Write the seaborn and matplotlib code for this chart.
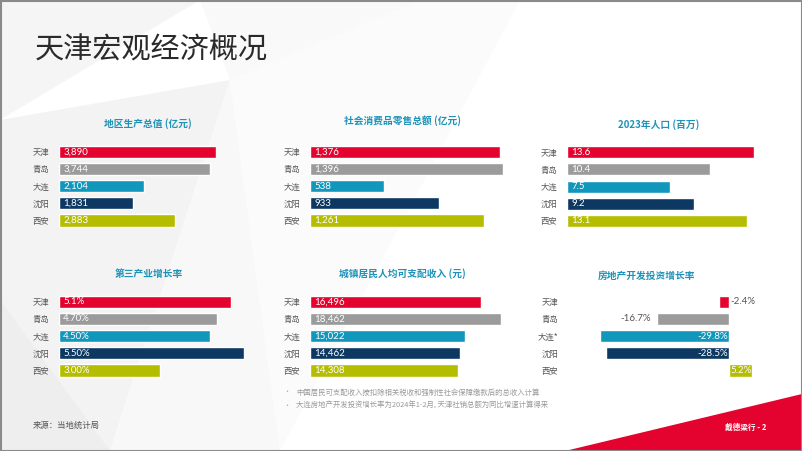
import matplotlib
matplotlib.use("Agg")
import matplotlib.pyplot as plt
import seaborn as sns
from matplotlib.patches import Polygon, Rectangle

sns.set_theme(style="white")
plt.rcParams['font.family'] = ['Noto Sans CJK SC', 'DejaVu Sans']

# ---------------- data ----------------
cities = ["天津", "青岛", "大连", "沈阳", "西安"]
cities_re = ["天津", "青岛", "大连*", "沈阳", "西安"]

gdp = [3890, 3744, 2104, 1831, 2883]
gdp_labels = ["3,890", "3,744", "2,104", "1,831", "2,883"]

retail = [1376, 1396, 538, 933, 1261]
retail_labels = ["1,376", "1,396", "538", "933", "1,261"]

population = [13.6, 10.4, 7.5, 9.2, 13.1]
population_labels = ["13.6", "10.4", "7.5", "9.2", "13.1"]

tertiary = [5.1, 4.7, 4.5, 5.5, 3.0]
tertiary_labels = ["5.1%", "4.70%", "4.50%", "5.50%", "3.00%"]

income = [16496, 18462, 15022, 14462, 14308]
income_labels = ["16,496", "18,462", "15,022", "14,462", "14,308"]

realestate = [-2.4, -16.7, -29.8, -28.5, 5.2]
realestate_labels = ["-2.4%", "-16.7%", "-29.8%", "-28.5%", "5.2%"]

titles = ["地区生产总值 (亿元)", "社会消费品零售总额 (亿元)", "2023年人口 (百万)",
          "第三产业增长率", "城镇居民人均可支配收入 (元)", "房地产开发投资增长率"]

main_title = "天津宏观经济概况"
footnotes = ["中国居民可支配收入按扣除相关税收和强制性社会保障缴款后的总收入计算",
             "大连房地产开发投资增长率为2024年1-2月, 天津社销总额为同比增速计算得来"]
source = "来源：当地统计局"
brand = "戴德梁行 - 2"

colors = ["#E4032E", "#9B9B9B", "#1297BC", "#0C3862", "#B4BD00"]
title_color = "#1E92B8"

# ---------------- figure ----------------
W, H = 802, 451
fig = plt.figure(figsize=(W / 100, H / 100), dpi=100)
fig.patch.set_facecolor("white")

# background facets
bg = fig.add_axes([0, 0, 1, 1])
bg.set_xlim(0, W)
bg.set_ylim(H, 0)
bg.axis("off")
facets = [
    ([(0, 0), (200, 0), (0, 120)], "#f5f5f5"),
    ([(0, 120), (230, 80), (110, 451), (0, 451)], "#f3f3f3"),
    ([(110, 451), (230, 80), (280, 451)], "#f8f8f8"),
    ([(230, 80), (420, 0), (520, 0), (280, 451)], "#fbfbfb"),
    ([(0, 300), (110, 451), (0, 451)], "#eeeeee"),
    ([(200, 0), (420, 0), (230, 80)], "#f9f9f9"),
]
for pts, c in facets:
    bg.add_patch(Polygon(pts, closed=True, facecolor=c, edgecolor="none", zorder=0))
bg.add_patch(Polygon([(565, 451), (802, 394), (802, 451)], closed=True,
                     facecolor="#E4032E", edgecolor="none", zorder=1))
bg.add_patch(Rectangle((0.5, 0.5), W - 1, H - 1, fill=False, edgecolor="#8a8a8a",
                       linewidth=1.5, zorder=5))

bg.text(35, 50, main_title, fontsize=21, color="#2a2a2a", va="center", ha="left")
for i, note in enumerate(footnotes):
    y = 392.5 + i * 13.5
    bg.text(287, y, "•", fontsize=5, color="#aaaaaa", va="center", ha="center")
    bg.text(296, y, note, fontsize=5.3, color="#9a9a9a", va="center", ha="left")
bg.text(33, 425, source, fontsize=6, color="#555555", va="center", ha="left")
bg.text(766, 427, brand, fontsize=5.5, color="white", fontweight="bold",
        va="center", ha="right")


def px_axes(left, top, right, bottom):
    return fig.add_axes([left / W, 1 - bottom / H, (right - left) / W, (bottom - top) / H])


def panel(left, right, top, values, labels, xlim, title, title_xy, ylabels,
          pad=7, mode="inside"):
    ax = px_axes(left, top, right, top + 86)
    sns.barplot(x=values, y=ylabels, hue=ylabels, palette=colors, legend=False,
                orient="h", width=0.7, ax=ax, saturation=1)
    ax.set_xlim(*xlim)
    ax.set_ylim(4.5, -0.5)
    for s in ax.spines.values():
        s.set_visible(False)
    ax.set_facecolor("none")
    ax.set_xticks([])
    ax.set_xlabel("")
    ax.set_ylabel("")
    ax.tick_params(axis="y", length=0, pad=pad, labelsize=6, labelcolor="#555555")
    ax.grid(False)
    bars = sorted(ax.patches, key=lambda p: p.get_y())
    for i, (p, lab) in enumerate(zip(bars, labels)):
        yc = p.get_y() + p.get_height() / 2
        xa = p.get_x()
        xb = p.get_x() + p.get_width()
        x0, x1 = min(xa, xb), max(xa, xb)
        fk = dict(fontsize=7, va="center", family=["Lato", "DejaVu Sans"],
                  annotation_clip=False)
        if mode == "inside":
            ax.annotate(lab, (x0, yc), xytext=(3, 0), textcoords="offset points",
                        ha="left", color="white", **fk)
        else:
            v = values[i]
            if v >= 0:
                ax.annotate(lab, (x0, yc), xytext=(0.5, 0), textcoords="offset points",
                            ha="left", color="white", **fk)
            elif abs(v) > 20:
                ax.annotate(lab, (x1, yc), xytext=(-1, 0), textcoords="offset points",
                            ha="right", color="white", **fk)
            elif abs(v) > 5:
                ax.annotate(lab, (x0, yc), xytext=(-4, 0), textcoords="offset points",
                            ha="right", color="#555555", **fk)
            else:
                ax.annotate(lab, (x1, yc), xytext=(1, 0), textcoords="offset points",
                            ha="left", color="#555555", **fk)
    bg.text(title_xy[0], title_xy[1], title, fontsize=7, fontweight="bold",
            color=title_color, ha="center", va="center")
    return ax


panel(59, 216, 143.1, gdp, gdp_labels, (0, max(gdp)), titles[0], (148, 124), cities)
panel(310, 503, 143.1, retail, retail_labels, (0, max(retail)), titles[1], (402, 120.5), cities)
panel(567, 754, 143.6, population, population_labels, (0, max(population)), titles[2], (659, 125), cities)
panel(59, 244, 293.1, tertiary, tertiary_labels, (0, max(tertiary)), titles[3], (148.5, 273.5), cities)
panel(310, 501, 293.1, income, income_labels, (0, max(income)), titles[4], (402, 273.5), cities)
panel(600, 752, 293.1, realestate, realestate_labels, (min(realestate), max(realestate)),
      titles[5], (646, 276), cities_re, pad=30, mode="diverging")

fig.savefig("out.png", dpi=100, facecolor="white")
